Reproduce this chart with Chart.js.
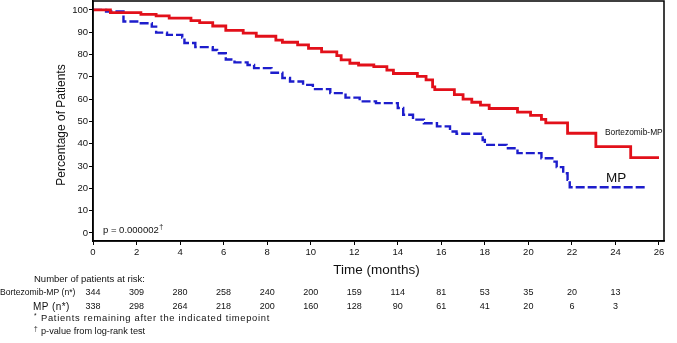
<!DOCTYPE html>
<html>
<head>
<meta charset="utf-8">
<script src="https://cdn.jsdelivr.net/npm/chart.js@4/dist/chart.umd.min.js"></script>
<style>
html, body { margin: 0; padding: 0; background: #fff; }
#wrap { width: 677px; height: 343px; }
</style>
</head>
<body>
<div id="wrap"><canvas id="km" width="677" height="343"></canvas></div>
<script>
// Kaplan-Meier curves (months, % of patients)
const vmpMonths = [0, 0.8, 2.2, 2.9, 3.5, 4.5, 4.9, 5.5, 6.1, 6.9, 7.5, 8.4, 8.7, 9.4, 9.9, 10.5, 11.2, 11.4, 11.8, 12.2, 12.9, 13.5, 13.8, 14.9, 15.3, 15.6, 15.7, 16.6, 17.0, 17.4, 17.8, 18.2, 19.5, 20.1, 20.6, 20.8, 21.8, 23.1, 24.7, 26.0];
const vmpPct    = [100, 98.8, 98.0, 97.3, 96.3, 95.2, 94.3, 92.8, 90.8, 89.6, 88.2, 86.5, 85.5, 84.3, 82.8, 81.2, 79.5, 77.6, 76.1, 75.3, 74.6, 73.0, 71.5, 70.2, 68.6, 65.5, 64.3, 62.0, 60.0, 58.6, 57.3, 55.8, 54.2, 52.7, 50.9, 49.4, 44.7, 38.7, 33.8, 33.8];

const mpMonths = [0, 0.6, 1.4, 2.1, 2.7, 2.9, 3.4, 4.1, 4.2, 4.7, 5.5, 5.7, 6.1, 6.5, 7.1, 7.4, 8.2, 8.7, 9.05, 9.65, 10.1, 10.9, 11.6, 12.25, 13.0, 14.0, 14.25, 14.7, 15.2, 15.8, 16.4, 16.7, 17.9, 18.0, 19.0, 19.5, 20.6, 21.1, 21.3, 21.6, 21.8, 21.9, 25.4];
const mpPct    = [100, 99.3, 94.8, 94.0, 92.5, 89.8, 88.8, 87.6, 85.2, 83.3, 82.0, 80.6, 77.8, 76.5, 75.3, 73.9, 71.8, 69.5, 67.9, 66.4, 64.5, 62.7, 60.7, 59.0, 58.2, 56.0, 53.0, 50.8, 49.2, 47.8, 45.5, 44.5, 41.7, 39.5, 38.0, 35.8, 33.5, 32.0, 29.5, 26.8, 23.8, 20.5, 20.5];

// ticks and number at risk
const xTicks = [0, 2, 4, 6, 8, 10, 12, 14, 16, 18, 20, 22, 24, 26];
const yTicks = [0, 10, 20, 30, 40, 50, 60, 70, 80, 90, 100];
const riskMonths = [0, 2, 4, 6, 8, 10, 12, 14, 16, 18, 20, 22, 24];
const riskVmp = [344, 309, 280, 258, 240, 200, 159, 114, 81, 53, 35, 20, 13];
const riskMp  = [338, 298, 264, 218, 200, 160, 128, 90, 61, 41, 20, 6, 3];

const FONT = "'Liberation Sans', Arial, sans-serif";
const RED = '#e2101a';
const BLUE = '#1d1dcc';

const toPoints = (xs, ys) => xs.map((x, i) => ({ x, y: ys[i] }));

// frame, curve labels, p-value and risk table
const extras = {
  id: 'extras',
  afterDraw(chart) {
    const { ctx, chartArea: a, scales: { x } } = chart;
    ctx.save();
    ctx.strokeStyle = '#000';
    ctx.lineWidth = 1.5;
    ctx.strokeRect(a.left, a.top, a.right - a.left, a.bottom - a.top);

    ctx.fillStyle = '#111';
    ctx.textBaseline = 'middle';
    ctx.textAlign = 'left';
    ctx.font = '8.4px ' + FONT;
    ctx.fillText('Bortezomib-MP', 605, 133);
    ctx.font = '13.5px ' + FONT;
    ctx.fillText('MP', 606, 178);

    ctx.font = '9.5px ' + FONT;
    ctx.fillText('p = 0.000002', 103, 230);
    const pw = ctx.measureText('p = 0.000002').width;
    ctx.font = '7px ' + FONT;
    ctx.fillText('\u2020', 103 + pw + 0.5, 227);

    // axis titles
    ctx.font = '12px ' + FONT;
    ctx.textAlign = 'center';
    ctx.save();
    ctx.translate(62, (a.top + a.bottom) / 2 + 4);
    ctx.rotate(-Math.PI / 2);
    ctx.fillText('Percentage of Patients', 0, 0);
    ctx.restore();
    ctx.font = '13.5px ' + FONT;
    ctx.fillText('Time (months)', (a.left + a.right) / 2 - 2, 270);

    // number at risk
    ctx.textAlign = 'left';
    ctx.font = '9.5px ' + FONT;
    ctx.fillText('Number of patients at risk:', 34, 279);
    ctx.font = '8.6px ' + FONT;
    ctx.fillText('Bortezomib-MP (n*)', 0, 293);
    ctx.font = '10px ' + FONT;
    ctx.letterSpacing = '0.4px';
    ctx.fillText('MP (n*)', 33, 307);
    ctx.letterSpacing = '0px';
    ctx.textAlign = 'center';
    ctx.font = '9px ' + FONT;
    riskMonths.forEach((m, i) => {
      const px = x.getPixelForValue(m);
      ctx.fillText(String(riskVmp[i]), px, 293);
      ctx.fillText(String(riskMp[i]), px, 307);
    });

    // footnotes
    ctx.textAlign = 'left';
    ctx.font = '6.5px ' + FONT;
    ctx.fillText('*', 34, 316);
    ctx.fillText('\u2020', 34, 329);
    ctx.font = '9.4px ' + FONT;
    ctx.letterSpacing = '0.7px';
    ctx.fillText('Patients remaining after the indicated timepoint', 41, 318);
    ctx.letterSpacing = '0px';
    ctx.font = '9.2px ' + FONT;
    ctx.fillText('p-value from log-rank test', 41, 331);
    ctx.restore();
  }
};

new Chart(document.getElementById('km'), {
  type: 'line',
  data: {
    datasets: [
      {
        label: 'Bortezomib-MP',
        data: toPoints(vmpMonths, vmpPct),
        borderColor: RED,
        borderWidth: 2.8,
        stepped: 'before',
        pointRadius: 0,
        fill: false
      },
      {
        label: 'MP',
        data: toPoints(mpMonths, mpPct),
        borderColor: BLUE,
        borderWidth: 2.4,
        borderDash: [9, 3],
        stepped: 'before',
        pointRadius: 0,
        fill: false
      }
    ]
  },
  options: {
    responsive: false,
    animation: false,
    devicePixelRatio: 1,
    layout: { padding: { top: 1, right: 13, left: 0, bottom: 0 } },
    plugins: { legend: { display: false }, tooltip: { enabled: false } },
    scales: {
      x: {
        type: 'linear',
        min: 0,
        max: 26.23,
        afterBuildTicks: s => { s.ticks = xTicks.map(v => ({ value: v })); },
        afterFit: s => { s.height = 102; s.paddingLeft = 0; s.paddingRight = 0; },
        grid: { drawOnChartArea: false, drawTicks: true, tickLength: 4, tickColor: '#000' },
        border: { display: true, color: '#000', width: 1.5 },
        ticks: { color: '#111', font: { family: FONT, size: 9.5 }, padding: 2, maxRotation: 0 }
      },
      y: {
        min: -3.6,
        max: 104,
        afterBuildTicks: s => { s.ticks = yTicks.map(v => ({ value: v })); },
        afterFit: s => { s.width = 93; s.paddingTop = 0; s.paddingBottom = 0; },
        grid: { drawOnChartArea: false, drawTicks: true, tickLength: 4, tickColor: '#000' },
        border: { display: true, color: '#000', width: 1.5 },
        ticks: { color: '#111', font: { family: FONT, size: 9.5 }, padding: 1 }
      }
    }
  },
  plugins: [extras]
});
</script>
</body>
</html>
